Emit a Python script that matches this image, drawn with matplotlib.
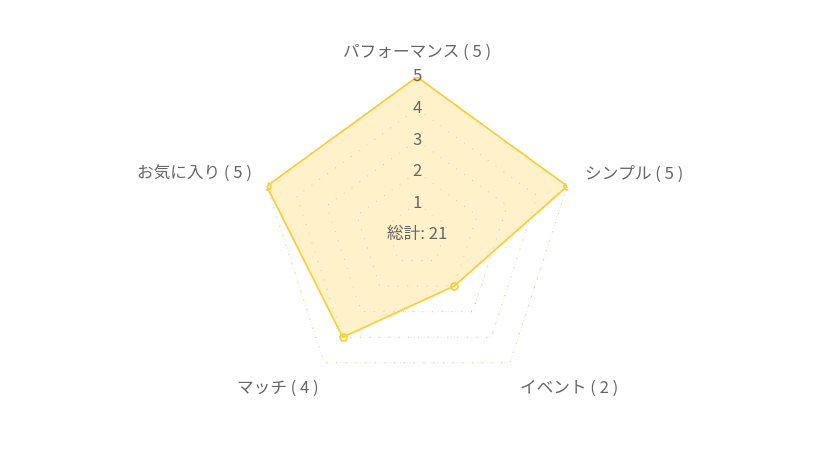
import numpy as np
import matplotlib
matplotlib.use("Agg")
import matplotlib.pyplot as plt

plt.rcParams['font.family'] = ['Noto Sans CJK JP', 'DejaVu Sans']

# data
labels = ["パフォーマンス", "シンプル", "イベント", "マッチ", "お気に入り"]
values = [5, 5, 2, 4, 5]
ticks = [1, 2, 3, 4, 5]
rmax = 5

text_col = "#666666"
line_col = "#ffcc33"
fill_col = "#fff1c9"

n = len(labels)
theta = np.linspace(0, 2 * np.pi, n, endpoint=False)

fig = plt.figure(figsize=(8.36, 4.5), dpi=100)
ax = fig.add_axes([0.3098, 0.1267, 0.378, 0.7022], projection="polar")
ax.set_theta_zero_location("N")
ax.set_theta_direction(-1)
ax.set_ylim(0, rmax)
ax.grid(False)
ax.spines["polar"].set_visible(False)
ax.set_xticks([])
ax.set_yticks([])
ax.patch.set_alpha(0)

th_closed = np.append(theta, theta[0])

# pentagon rings
for t in ticks:
    r = np.full(n + 1, t)
    ax.plot(th_closed, r, color="#fbeebf", lw=0.8, ls=(0, (1, 2)), zorder=1)
    ax.plot(th_closed, r, color="#c4c4c4", lw=0.7, ls=(0, (1, 9)), zorder=4)

# data polygon
vals_closed = np.append(values, values[0])
ax.fill(th_closed, vals_closed, color=fill_col, zorder=2)
ax.plot(th_closed, vals_closed, color=line_col, lw=1.2, zorder=3)
ax.plot(theta, values, "o", ms=5, mfc="none", mec=line_col, mew=1.2, zorder=5)

# tick labels along top axis
for t in ticks:
    ax.text(0, t, str(t), ha="center", va="center", fontsize=12,
            color=text_col, zorder=6)

# axis labels
offsets = [(0, 25, "center"), (18, 12, "left"), (10, -26, "left"),
           (-6, -26, "right"), (-15, 12, "right")]
for th, lab, v, (dx, dy, ha) in zip(theta, labels, values, offsets):
    ax.annotate(f"{lab} ( {v} )", xy=(th, rmax), xytext=(dx, dy),
                textcoords="offset pixels", ha=ha, va="center",
                fontsize=12, color=text_col, annotation_clip=False)

ax.text(0, 0, f"総計: {sum(values)}", ha="center", va="center",
        fontsize=12, color=text_col, zorder=6)

fig.savefig("out.png", dpi=100)
